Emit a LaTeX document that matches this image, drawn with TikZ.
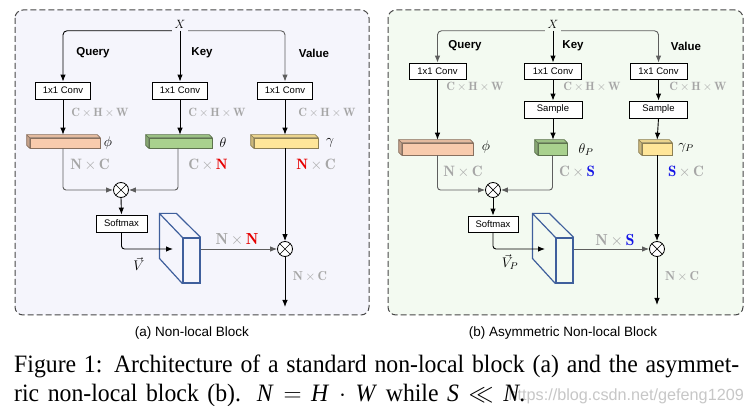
\RequirePackage{fix-cm}
\documentclass[tikz,border=0pt]{standalone}
\usepackage{fontspec}
\newfontfamily\arialf{Liberation Sans}
\newfontfamily\timesf{Liberation Serif}
\newfontfamily\timesc[FakeStretch=0.95]{Liberation Serif}
\usetikzlibrary{arrows.meta,calc}
\definecolor{bgA}{HTML}{F5F5FC}
\definecolor{bgB}{HTML}{F3FAF1}
\definecolor{peach}{HTML}{F8CBAD}
\definecolor{kgreen}{HTML}{A9D18E}
\definecolor{vyellow}{HTML}{FFE699}
\definecolor{dimgray}{HTML}{A6A6A6}
\definecolor{linegray}{HTML}{5E5E5E}
\definecolor{slabblue}{HTML}{3F5F9C}
\definecolor{nred}{HTML}{E60000}
\definecolor{sblue}{HTML}{1414E6}
\newcommand{\dimx}{\mkern3mu{\times}\mkern3mu}
\newcommand{\mg}{\hskip 0.28em plus 0.12em\relax}
\newcommand{\barfaces}[2]{%
  \filldraw[draw=#2!55!black, fill=#2!80!black, line width=0.6pt, line join=round]
    (#1.north west) -- ++(-3,-3) -- ([shift={(-3pt,3pt)}]#1.south west) -- (#1.south west) -- cycle;
  \filldraw[draw=#2!55!black, fill=#2!92!black, line width=0.6pt, line join=round]
    (#1.north west) -- ++(-3,-3) -- ([shift={(-3pt,3pt)}]#1.north east) -- (#1.north east) -- cycle;}
\newcommand{\slabfaces}[1]{%
  \draw[slabblue, line width=1.2pt, line join=round]
    (#1.north west) -- ++(-23,-24) -- ++(0,45) -- (#1.south west);
  \draw[slabblue, line width=1.2pt, line join=round]
    ($(#1.north west)+(-23,-24)$) -- ++(17,0) -- (#1.north east);}
\begin{document}
\begin{tikzpicture}[x=1pt,y=-1pt,
  arr/.style={-{Latex[length=7pt,width=5.5pt]}, line width=0.9pt},
  gline/.style={draw=linegray},
  conv/.style={draw, line width=0.8pt, fill=white, minimum width=55pt, minimum height=17pt, inner sep=0pt, font=\arialf\fontsize{9.5}{10}\selectfont},
  lbl/.style={font=\arialf\bfseries\fontsize{11.5}{12}\selectfont, inner sep=0pt},
  xlab/.style={font=\fontsize{12}{12}\selectfont, inner sep=2.5pt},
  greek/.style={font=\fontsize{14}{14}\selectfont, inner sep=0pt},
  dimS/.style={text=dimgray, font=\fontsize{12}{12}\selectfont, inner sep=0pt},
  dimL/.style={text=dimgray, font=\fontsize{15}{15}\selectfont, inner sep=0pt},
  dimM/.style={text=dimgray, font=\fontsize{16}{16}\selectfont, inner sep=0pt},
  dimT/.style={text=dimgray, font=\fontsize{13}{13}\selectfont, inner sep=0pt},
  bar/.style={draw=#1!55!black, fill=#1, line width=0.6pt, minimum height=10pt, inner sep=0pt},
  slabf/.style={draw=slabblue, line width=1.2pt, minimum width=17pt, minimum height=45pt, inner sep=0pt},
  otim/.style={circle, draw, line width=0.8pt, minimum size=15pt, inner sep=0pt, fill=white,
    path picture={\draw[line width=0.7pt] (path picture bounding box.north west) -- (path picture bounding box.south east)
      (path picture bounding box.north east) -- (path picture bounding box.south west);}},
  subcap/.style={font=\arialf\fontsize{13.5}{14}\selectfont, inner sep=0pt},
  figcap/.style={anchor=base west, inner sep=0pt, font=\timesc\fontsize{25}{29}\selectfont},
  panel/.style={draw=black!72, dash pattern=on 6pt off 3pt, line width=1pt, rounded corners=8pt}
]
\useasboundingbox (0,0) rectangle (753,406);
\fill[white] (0,0) rectangle (753,406);

% ================= panel (a) =================
\draw[panel, fill=bgA] (15,10) rectangle (369,315);
\node[xlab] (XA) at (180,24) {$X$};
\node[lbl] (qlA) at (93,53) {Query};
\node[lbl] (klA) at (202,53) {Key};
\node[lbl] (vlA) at (314,53) {Value};
\node[conv] (qcA) at (63,90.5) {1x1 Conv};
\node[conv] (kcA) at (180,90.5) {1x1 Conv};
\node[conv] (vcA) at (285,90.5) {1x1 Conv};
\draw[arr, rounded corners=4pt] (XA.south west) -| (qcA.north);
\draw[arr] (XA.south) -- (kcA.north);
\draw[arr, gline, rounded corners=4pt] (XA.south east) -| (vcA.north);
\node[dimS] (dA1) at (100,113) {$\mathbf{C}\dimx\mathbf{H}\dimx\mathbf{W}$};
\node[dimS] (dA2) at (217,113) {$\mathbf{C}\dimx\mathbf{H}\dimx\mathbf{W}$};
\node[dimS] (dA3) at (327,113) {$\mathbf{C}\dimx\mathbf{H}\dimx\mathbf{W}$};
\node[bar=peach, minimum width=70pt] (qbA) at (65,143) {};
\node[bar=kgreen, minimum width=63pt] (kbA) at (180.5,143) {};
\node[bar=vyellow, minimum width=64pt] (vbA) at (286,143) {};
\barfaces{qbA}{peach}
\barfaces{kbA}{kgreen}
\barfaces{vbA}{vyellow}
\draw[arr, shorten >=3pt] (qcA.south) -- (qcA.south |- qbA.north);
\draw[arr, shorten >=3pt] (kcA.south) -- (kcA.south |- kbA.north);
\draw[arr, shorten >=3pt] (vcA.south) -- (vcA.south |- vbA.north);
\node[greek] (phA) at (108,143) {$\phi$};
\node[greek] (thA) at (223,143) {$\theta$};
\node[greek] (gaA) at (330,143) {$\gamma$};
\node[dimL] (eA1) at (90,165) {$\mathbf{N}\dimx\mathbf{C}$};
\node[dimL] (eA2) at (208,165) {$\mathbf{C}\dimx\textcolor{nred}{\mathbf{N}}$};
\node[dimL] (eA3) at (316,165) {$\textcolor{nred}{\mathbf{N}}\dimx\mathbf{C}$};
\node[otim] (omA1) at (121,190) {};
\node[otim] (omA2) at (285,249) {};
\draw[arr, gline, rounded corners=3pt] (qcA.south |- qbA.south) |- (omA1.west);
\draw[arr, gline, rounded corners=3pt] (178,148) |- (omA1.east);
\draw[arr] (vcA.south |- vbA.south) -- (omA2.north);
\node[conv, minimum width=51pt] (smA) at (121.5,223.5) {Softmax};
\draw[arr] (omA1.south) -- (smA.north);
\node[slabf] (slA) at (191.5,260.5) {};
\slabfaces{slA}
\coordinate (tipA) at (173,249);
\draw[arr, rounded corners=3pt] (smA.south) |- (tipA);
\draw[arr, gline] (slA.east |- omA2.west) -- (omA2.west);
\node[dimM] (nnA) at (237,240) {$\mathbf{N}\dimx\textcolor{nred}{\mathbf{N}}$};
\node[greek] (vA) at (139,264) {$\vec{V}$};
\node[dimT] (ncA) at (310,277) {$\mathbf{N}\dimx\mathbf{C}$};
\coordinate (outA) at (285,307);
\draw[arr] (omA2.south) -- (outA);
\node[subcap] (capA) at (192,333) {(a) Non-local Block};

% ================= panel (b) =================
\draw[panel, fill=bgB] (388,10) rectangle (743,315);
\node[xlab] (XB) at (553,24) {$X$};
\node[lbl] (qlB) at (465,46) {Query};
\node[lbl] (klB) at (573,46) {Key};
\node[lbl] (vlB) at (686,46) {Value};
\node[conv, minimum width=57pt, minimum height=16pt] (qcB) at (437.5,71) {1x1 Conv};
\node[conv, minimum width=57pt, minimum height=16pt] (kcB) at (553,71) {1x1 Conv};
\node[conv, minimum width=57pt, minimum height=16pt] (vcB) at (658.5,71) {1x1 Conv};
\draw[arr, gline, rounded corners=4pt] (XB.south west) -| (qcB.north);
\draw[arr] (XB.south) -- (kcB.north);
\draw[arr, gline, rounded corners=4pt] (XB.south east) -| (vcB.north);
\node[dimS] (dB1) at (475,87) {$\mathbf{C}\dimx\mathbf{H}\dimx\mathbf{W}$};
\node[dimS] (dB2) at (592,87) {$\mathbf{C}\dimx\mathbf{H}\dimx\mathbf{W}$};
\node[dimS] (dB3) at (698,87) {$\mathbf{C}\dimx\mathbf{H}\dimx\mathbf{W}$};
\node[conv, minimum width=58pt] (skB) at (553,109.5) {Sample};
\node[conv, minimum width=58pt] (svB) at (658.5,109.5) {Sample};
\draw[arr] (kcB.south) -- (skB.north);
\draw[arr] (vcB.south) -- (svB.north);
\node[bar=peach, minimum width=71pt, minimum height=12pt] (qbB) at (437.5,149) {};
\node[bar=kgreen, minimum width=29pt, minimum height=12pt] (kbB) at (552.5,149) {};
\node[bar=vyellow, minimum width=30pt, minimum height=12pt] (vbB) at (657,149) {};
\barfaces{qbB}{peach}
\barfaces{kbB}{kgreen}
\barfaces{vbB}{vyellow}
\draw[arr, shorten >=3pt] (qcB.south) -- (qcB.south |- qbB.north);
\draw[arr, shorten >=3pt] (skB.south) -- (skB.south |- kbB.north);
\draw[arr, shorten >=3pt] (svB.south) -- (vbB.north);
\node[greek] (phB) at (486,147) {$\phi$};
\node[greek] (thB) at (586,150) {$\theta_P$};
\node[greek] (gaB) at (686,148) {$\gamma_P$};
\node[dimL] (eB1) at (463,172) {$\mathbf{N}\dimx\mathbf{C}$};
\node[dimL] (eB2) at (577,172) {$\mathbf{C}\dimx\textcolor{sblue}{\mathbf{S}}$};
\node[dimL] (eB3) at (686,172) {$\textcolor{sblue}{\mathbf{S}}\dimx\mathbf{C}$};
\node[otim] (omB1) at (493,190) {};
\node[otim] (omB2) at (657,249) {};
\draw[arr, gline, rounded corners=3pt] (qcB.south |- qbB.south) |- (omB1.west);
\draw[arr, gline, rounded corners=3pt] (kbB.south) |- (omB1.east);
\draw[arr] (vbB.south) -- (omB2.north);
\node[conv, minimum width=50pt, minimum height=16pt] (smB) at (493,224) {Softmax};
\draw[arr] (omB1.south) -- (smB.north);
\node[slabf] (slB) at (564.5,260.5) {};
\slabfaces{slB}
\coordinate (tipB) at (545,249);
\draw[arr, rounded corners=3pt] (smB.south) |- (tipB);
\draw[arr, gline] (slB.east |- omB2.west) -- (omB2.west);
\node[dimM] (nsB) at (615,241) {$\mathbf{N}\dimx\textcolor{sblue}{\mathbf{S}}$};
\node[greek] (vB) at (510,262) {$\vec{V}_P$};
\node[dimT] (ncB) at (682,277) {$\mathbf{N}\dimx\mathbf{C}$};
\coordinate (outB) at (657,305);
\draw[arr] (omB2.south) -- (outB);
\node[subcap] (capB) at (563,333) {(b) Asymmetric Non-local Block};

% ================= caption =================
\node[anchor=base east, inner sep=0pt, text=black!22, font=\arialf\fontsize{16.2}{17}\selectfont] (wm) at (744,400) {https://blog.csdn.net/gefeng1209};
\node[figcap] (cap1) at (14,372)
  {\makebox[725pt][s]{Figure 1: Architecture of a standard non-local block (a) and the asymmet-}};
\node[figcap] (cap2) at (14,401)
  {\makebox[511pt][s]{ric non-local block (b). \textit{N}\mg$=$\mg\textit{H}\mg$\cdot$\mg\textit{W} while \textit{S}\mg$\ll$\mg\textit{N}.}};
\end{tikzpicture}
\end{document}
